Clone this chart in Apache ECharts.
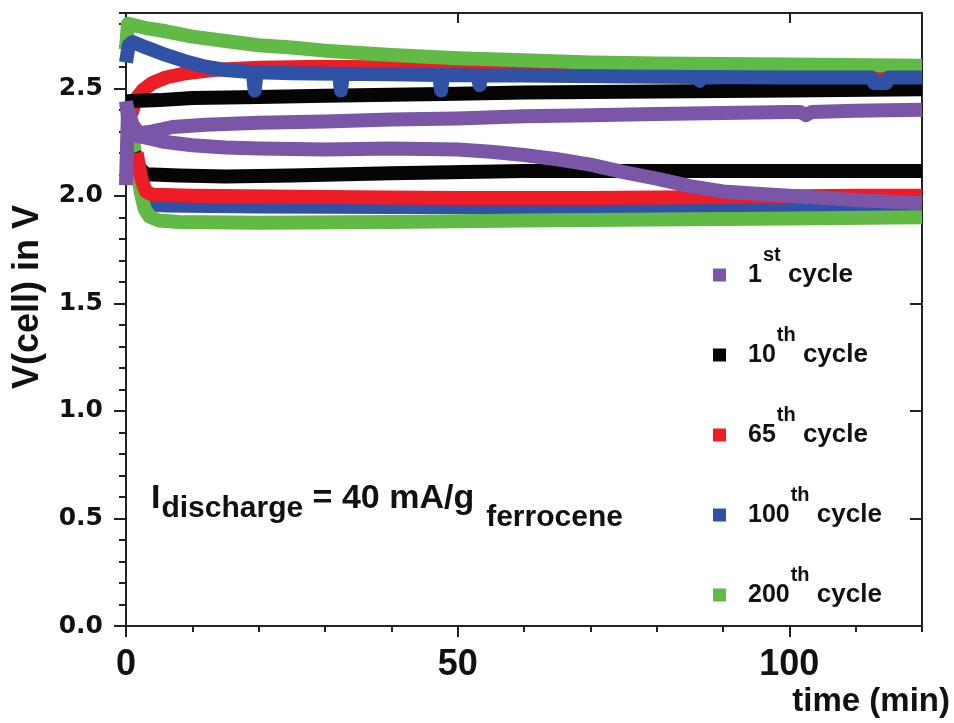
<!DOCTYPE html>
<html>
<head>
<meta charset="utf-8">
<title>Cell voltage vs time</title>
<script src="https://cdn.jsdelivr.net/npm/echarts@6/dist/echarts.min.js"></script>
<style>
  html, body { margin: 0; padding: 0; background: #ffffff; }
  #chart { width: 954px; height: 723px; }
</style>
</head>
<body>
<div id="chart"></div>
<script>
// Legend labels (one per cycle)
const cycleNames = ['1st cycle', '10th cycle', '65th cycle', '100th cycle', '200th cycle'];
const cycleColors = ['#7a55a8', '#050505', '#ee1c25', '#2f51a6', '#61b946'];

// Tick values
const xMajorTicks = [0, 50, 100];
const yMajorTicks = [0, 0.5, 1.0, 1.5, 2.0, 2.5];

// 1st cycle
const c1ChargeTime = [0, 0.3, 1, 2, 4, 7, 12, 20, 30, 40, 50, 60, 70, 80, 90, 100, 101.6, 102.5, 103.4, 110, 120];
const c1ChargeVolt = [2.05, 2.40, 2.33, 2.29, 2.30, 2.32, 2.33, 2.34, 2.345, 2.355, 2.36, 2.37, 2.375, 2.38, 2.385, 2.39, 2.39, 2.375, 2.39, 2.395, 2.40];
const c1DischargeTime = [0, 0.5, 1.5, 3, 6, 10, 15, 20, 30, 40, 50, 55, 60, 65, 70, 75, 80, 85, 90, 95, 100, 110, 120];
const c1DischargeVolt = [2.44, 2.32, 2.28, 2.27, 2.25, 2.235, 2.225, 2.22, 2.215, 2.22, 2.215, 2.205, 2.19, 2.17, 2.145, 2.11, 2.08, 2.045, 2.02, 2.01, 2.00, 1.98, 1.965];

// 10th cycle
const c10ChargeTime = [0, 5, 10, 20, 30, 40, 50, 60, 80, 100, 120];
const c10ChargeVolt = [2.44, 2.445, 2.455, 2.46, 2.465, 2.47, 2.475, 2.48, 2.485, 2.49, 2.495];
const c10DischargeTime = [1.2, 2.0, 3, 8, 15, 25, 40, 60, 80, 100, 120];
const c10DischargeVolt = [2.20, 2.13, 2.10, 2.095, 2.09, 2.095, 2.105, 2.115, 2.115, 2.115, 2.115];

// 65th cycle
const c65ChargeTime = [0.8, 1.5, 2.5, 4, 6, 9, 13, 20, 30, 45, 60, 80, 100, 120];
const c65ChargeVolt = [2.38, 2.45, 2.49, 2.525, 2.55, 2.57, 2.585, 2.595, 2.60, 2.595, 2.59, 2.585, 2.58, 2.58];
const c65DischargeTime = [1.6, 2.3, 3, 4, 10, 30, 50, 70, 90, 110, 120];
const c65DischargeVolt = [2.20, 2.08, 2.02, 2.005, 2.0, 1.995, 1.99, 1.99, 1.995, 2.0, 2.0];

// 100th cycle (short interruptions show as notches on the charge plateau)
const c100ChargeTime = [0, 0.4, 1, 3, 6, 9, 12, 15, 19.1, 19.4, 19.7, 25, 32.1, 32.4, 32.7, 40, 47.2, 47.5, 47.8, 53.0, 53.3, 53.6, 60, 75, 86.2, 86.5, 86.8, 100, 112.4, 112.8, 114.6, 115.0, 120];
const c100ChargeVolt = [2.62, 2.70, 2.715, 2.69, 2.655, 2.625, 2.60, 2.585, 2.575, 2.49, 2.575, 2.57, 2.567, 2.49, 2.567, 2.565, 2.562, 2.49, 2.562, 2.56, 2.515, 2.56, 2.56, 2.555, 2.552, 2.535, 2.552, 2.55, 2.55, 2.525, 2.525, 2.55, 2.55];
const c100DischargeTime = [2.2, 2.7, 3.2, 4, 6, 20, 40, 60, 80, 100, 120];
const c100DischargeVolt = [2.12, 2.03, 1.98, 1.96, 1.955, 1.95, 1.948, 1.948, 1.95, 1.952, 1.955];

// 200th cycle
const c200ChargeTime = [0, 0.3, 3, 6, 10, 15, 20, 25, 30, 40, 50, 60, 70, 80, 100, 120];
const c200ChargeVolt = [2.68, 2.80, 2.78, 2.765, 2.74, 2.72, 2.70, 2.69, 2.675, 2.655, 2.64, 2.63, 2.62, 2.615, 2.61, 2.605];
const c200DischargeTime = [0.3, 1.0, 1.6, 2.2, 2.8, 3.5, 5, 8, 20, 40, 60, 80, 100, 120];
const c200DischargeVolt = [2.30, 2.27, 2.15, 2.02, 1.94, 1.905, 1.885, 1.878, 1.875, 1.878, 1.885, 1.89, 1.895, 1.90];

function pairs(t, v) { return t.map((x, i) => [x, v[i]]); }

const AXIS_COLOR = '#222222';
const SANS = '"Liberation Sans", Arial, sans-serif';
const X_MAX = 120;
const Y_MAX = 2.85;

function curve(nameIdx, t, v) {
  return {
    name: cycleNames[nameIdx],
    type: 'line',
    color: cycleColors[nameIdx],
    data: pairs(t, v),
    showSymbol: false,
    symbol: 'none',
    silent: true,
    animation: false,
    lineStyle: { width: 14, join: 'round', cap: 'butt', color: cycleColors[nameIdx] }
  };
}

// draw order: later entries sit on top
const series = [
  curve(3, c100DischargeTime, c100DischargeVolt),
  curve(4, c200DischargeTime, c200DischargeVolt),
  curve(1, c10DischargeTime, c10DischargeVolt),
  curve(2, c65DischargeTime, c65DischargeVolt),
  curve(2, c65ChargeTime, c65ChargeVolt),
  curve(4, c200ChargeTime, c200ChargeVolt),
  curve(1, c10ChargeTime, c10ChargeVolt),
  curve(3, c100ChargeTime, c100ChargeVolt),
  curve(0, c1DischargeTime, c1DischargeVolt),
  curve(0, c1ChargeTime, c1ChargeVolt)
];

function axisBase(extra) {
  return Object.assign({
    type: 'value',
    splitLine: { show: false },
    axisLabel: { show: false },
    axisLine: { show: false }
  }, extra);
}

const tickLine = { color: AXIS_COLOR, width: 2 };

const xAxes = [
  axisBase({
    position: 'bottom', min: 0, max: X_MAX, interval: 50,
    axisLine: { show: true, onZero: false, lineStyle: tickLine },
    axisTick: { show: true, inside: false, length: 11, customValues: xMajorTicks, lineStyle: tickLine },
    axisLabel: { show: true, customValues: xMajorTicks, margin: 21,
      fontFamily: SANS, fontWeight: 'bold', fontSize: 36, color: '#111' }
  }),
  axisBase({
    position: 'bottom', min: 0, max: X_MAX, interval: 10,
    axisTick: { show: true, inside: false, length: 6, lineStyle: tickLine }
  }),
  axisBase({
    position: 'top', min: 0, max: X_MAX, interval: 50,
    axisLine: { show: true, onZero: false, lineStyle: tickLine },
    axisTick: { show: true, inside: true, length: 10, customValues: xMajorTicks, lineStyle: tickLine }
  }),
  axisBase({
    position: 'top', min: 0, max: X_MAX, interval: 10,
    axisTick: { show: true, inside: true, length: 6, lineStyle: tickLine }
  })
];

const yAxes = [
  axisBase({
    position: 'left', min: 0, max: Y_MAX, interval: 0.5,
    axisLine: { show: true, onZero: false, lineStyle: tickLine },
    axisTick: { show: true, inside: false, length: 12, customValues: yMajorTicks, lineStyle: tickLine },
    axisLabel: { show: true, customValues: yMajorTicks, margin: 23, padding: [13, 0, 0, 0],
      formatter: v => v.toFixed(1),
      fontFamily: '"DejaVu Sans", sans-serif', fontWeight: 'bold', fontSize: 25, color: '#111' }
  }),
  axisBase({
    position: 'left', min: 0, max: Y_MAX, interval: 0.1,
    axisTick: { show: true, inside: false, length: 7, lineStyle: tickLine }
  }),
  axisBase({
    position: 'right', min: 0, max: Y_MAX, interval: 0.5,
    axisLine: { show: true, onZero: false, lineStyle: tickLine },
    axisTick: { show: true, inside: true, length: 12, customValues: yMajorTicks, lineStyle: tickLine }
  }),
  axisBase({
    position: 'right', min: 0, max: Y_MAX, interval: 0.1,
    axisTick: { show: true, inside: true, length: 7, lineStyle: tickLine }
  })
];

const chart = echarts.init(document.getElementById('chart'), null, { renderer: 'canvas' });

chart.setOption({
  backgroundColor: '#ffffff',
  animation: false,
  grid: { left: 126, right: 32, top: 13, bottom: 97, containLabel: false, outerBoundsMode: 'none' },
  xAxis: xAxes,
  yAxis: yAxes,
  legend: {
    data: cycleNames,
    orient: 'vertical',
    left: 713,
    top: 245,
    padding: 0,
    itemGap: 20,
    itemWidth: 13,
    itemHeight: 13,
    icon: 'rect',
    selectedMode: false,
    formatter: name => {
      const m = name.match(/^(\d+)(st|nd|rd|th) (.+)$/);
      return '{n|' + m[1] + '}{s|' + m[2] + '}{c| ' + m[3] + '}';
    },
    textStyle: {
      fontFamily: SANS, fontWeight: 'bold', fontSize: 25, color: '#111',
      rich: {
        n: { fontFamily: SANS, fontWeight: 'bold', fontSize: 25, lineHeight: 40, padding: [0, 0, 0, 17], color: '#111' },
        s: { fontFamily: SANS, fontWeight: 'bold', fontSize: 20, lineHeight: 40, padding: [0, 0, 40, 1], color: '#111' },
        c: { fontFamily: SANS, fontWeight: 'bold', fontSize: 26, lineHeight: 40, color: '#111' }
      }
    }
  },
  graphic: [
    {
      type: 'text',
      x: 28, y: 297,
      rotation: Math.PI / 2,
      silent: true,
      style: {
        text: 'V(cell) in V',
        font: 'bold 36px "Liberation Sans", Arial, sans-serif',
        fill: '#111',
        align: 'center',
        verticalAlign: 'middle'
      }
    },
    {
      type: 'text',
      x: 950, y: 685,
      silent: true,
      style: {
        text: 'time (min)',
        font: 'bold 33px "Liberation Sans", Arial, sans-serif',
        fill: '#111',
        align: 'right',
        verticalAlign: 'top'
      }
    },
    {
      type: 'text',
      x: 151, y: 482,
      silent: true,
      style: {
        text: '{m|I}{d|discharge}{m| = 40 mA/g}{f|ferrocene}',
        align: 'left',
        verticalAlign: 'top',
        rich: {
          m: { fontFamily: SANS, fontWeight: 'bold', fontSize: 34, lineHeight: 34, verticalAlign: 'top', fill: '#111' },
          d: { fontFamily: SANS, fontWeight: 'bold', fontSize: 30, lineHeight: 30, padding: [12, 0, 0, 1], verticalAlign: 'top', fill: '#111' },
          f: { fontFamily: SANS, fontWeight: 'bold', fontSize: 30, lineHeight: 30, padding: [21, 0, 0, 12], verticalAlign: 'top', fill: '#111' }
        }
      }
    }
  ],
  series: series
});
</script>
</body>
</html>
